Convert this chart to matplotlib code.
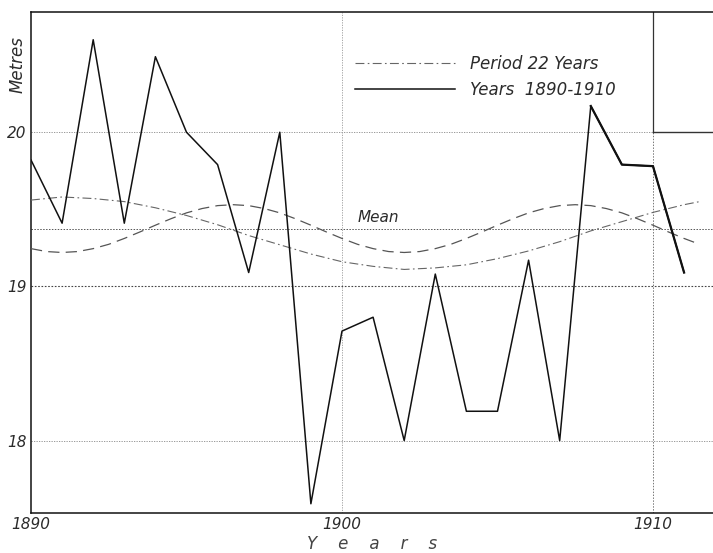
import matplotlib.pyplot as plt

# observed levels, one per year
years = list(range(1890, 1912))
levels = [19.82, 19.41, 20.60, 19.41, 20.49, 20.00, 19.79, 19.09, 20.00, 17.59, 18.71,
          18.80, 18.00, 19.08, 18.19, 18.19, 19.17, 18.00, 20.17, 19.79, 19.78, 19.09]

# "Period 22 Years" curve (dash-dot), read yearly
p22_years = list(range(1890, 1912)) + [1911.5]
p22_vals = [19.56, 19.58, 19.57, 19.55, 19.51, 19.46, 19.40, 19.33, 19.27, 19.21, 19.16,
            19.13, 19.11, 19.12, 19.14, 19.18, 19.23, 19.29, 19.36, 19.42, 19.48, 19.53, 19.55]

# unlabelled dashed curve (about 11 years), read every half year
p11_years = [1890 + 0.5 * i for i in range(44)]
p11_vals = [19.245, 19.226, 19.220, 19.226, 19.245, 19.273, 19.311, 19.353, 19.397, 19.439,
            19.477, 19.505, 19.524, 19.530, 19.524, 19.505, 19.477, 19.439, 19.397, 19.353,
            19.311, 19.273, 19.245, 19.226, 19.220, 19.226, 19.245, 19.273, 19.311, 19.353,
            19.397, 19.439, 19.477, 19.505, 19.524, 19.530, 19.524, 19.505, 19.477, 19.439,
            19.397, 19.353, 19.311, 19.273]

mean_level = 19.37
xticks = [1890, 1900, 1910]
yticks = [18, 19, 20]

ink = '#2b2b2b'
fnt = dict(family='DejaVu Sans', style='italic', color=ink)

fig = plt.figure(figsize=(7.13, 5.53), dpi=100)
ax = fig.add_axes([31 / 713, 1 - 513 / 553, 1 - 31 / 713, (513 - 12) / 553])
ax.set_xlim(1890, 1911.93)
ax.set_ylim(17.53, 20.78)

# grid
for y in yticks:
    ax.axhline(y, color='#444444' if y == 19 else '#888888', lw=0.8 if y == 19 else 0.6,
               ls=(0, (1.5, 1.5)), zorder=1)
ax.axhline(mean_level, color='#555555', lw=0.7, ls=(0, (1.5, 1.5)), zorder=1)
ax.axvline(1900, color='#999999', lw=0.6, ls=(0, (1.5, 1.5)), zorder=1)
ax.axvline(1910, color='#777777', lw=0.7, ls=(0, (1.5, 1.5)), zorder=1)
# heavier pencil strokes near 1910
ax.plot([xticks[2], ax.get_xlim()[1]], [yticks[2], yticks[2]], color='#333333', lw=1.0, zorder=2)
ax.plot([xticks[2], xticks[2]], [yticks[2], ax.get_ylim()[1]], color='#333333', lw=0.9, zorder=2)

ax.plot(p11_years, p11_vals, color='#555555', lw=0.9, ls=(0, (9, 5)), zorder=3)
ax.plot(p22_years, p22_vals, color='#666666', lw=0.8, ls=(0, (8, 3, 1.5, 3)), zorder=3,
        label='Period 22 Years')
ax.plot(years, levels, color='#111111', lw=1.1, zorder=4, label='Years  1890-1910')
ax.plot(years[-4:], levels[-4:], color='#111111', lw=1.6, zorder=4)

ax.text(1891.0 + 9.5, mean_level + 0.03, 'Mean', fontsize=11, ha='left', va='bottom', **fnt)

leg = ax.legend(loc='upper left', bbox_to_anchor=(355 / 713, 1 - 55 / 553),
                bbox_transform=fig.transFigure, frameon=False, borderpad=0,
                borderaxespad=0, handlelength=6.0, handletextpad=0.9, labelspacing=0.45,
                prop=dict(family='DejaVu Sans', style='italic', size=12))
for t in leg.get_texts():
    t.set_color(ink)

for s in ['left', 'bottom', 'top']:
    ax.spines[s].set_color('#111111')
    ax.spines[s].set_linewidth(1.1)
ax.spines['right'].set_visible(False)

ax.set_xticks(xticks)
ax.set_xticklabels([str(v) for v in xticks], fontsize=11, style='italic', color=ink)
ax.set_yticks(yticks)
ax.set_yticklabels([str(v) for v in yticks], fontsize=11, style='italic', color=ink)
ax.tick_params(length=0, pad=3)
ax.set_xlabel('Y    e    a    r    s', fontsize=12, style='italic', color='#444444', labelpad=2)
fig.text(18 / 713, 1 - 65 / 553, 'Metres', rotation=90, ha='center', va='center',
         fontsize=12, **fnt)

fig.savefig('out.png', dpi=100)
